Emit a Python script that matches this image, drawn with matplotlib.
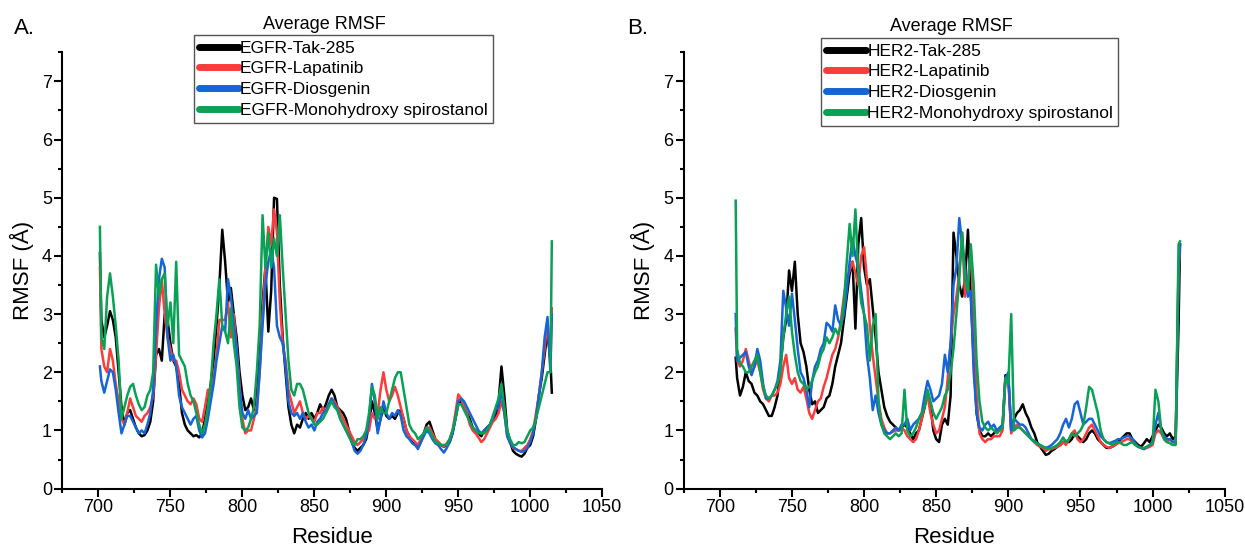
import matplotlib.pyplot as plt
from matplotlib.lines import Line2D
from matplotlib.ticker import MultipleLocator

plt.rcParams['font.family'] = ['Liberation Sans', 'DejaVu Sans']

# ---- panel A: EGFR complexes ----
res_a = [701] + list(range(702, 1015, 2)) + [1015]

egfr_tak = [
    4.05, 2.9, 2.6, 2.8, 3.05, 2.9, 2.6, 2.0, 1.4, 1.1,
    1.3, 1.35, 1.2, 1.05, 0.95, 0.9, 0.92, 1.0, 1.15, 1.5,
    2.3, 2.4, 2.2, 3.0, 2.9, 2.5, 2.2, 2.1, 1.8, 1.3,
    1.1, 1.0, 0.95, 0.9, 0.92, 0.88, 0.95, 1.2, 1.5, 1.8,
    2.2, 2.8, 3.5, 4.45, 3.9, 3.2, 3.45, 3.0, 2.6, 2.0,
    1.6, 1.35, 1.4, 1.55, 1.35, 1.7, 2.5, 3.2, 3.8, 2.7,
    3.4, 5.0, 4.98, 3.5, 2.6, 2.0, 1.4, 1.1, 0.95, 1.1,
    1.05, 1.2, 1.3, 1.2, 1.3, 1.2, 1.3, 1.45, 1.35, 1.45,
    1.6, 1.7, 1.6, 1.4, 1.35, 1.3, 1.2, 1.0, 0.8, 0.7,
    0.65, 0.7, 0.75, 0.85, 1.1, 1.5, 1.3, 1.0, 1.2, 1.4,
    1.25, 1.2, 1.25, 1.2, 1.3, 1.35, 1.2, 1.0, 0.9, 0.8,
    0.75, 0.72, 0.8, 0.95, 1.1, 1.15, 1.0, 0.85, 0.8, 0.75,
    0.72, 0.75, 0.8, 0.95, 1.2, 1.45, 1.5, 1.4, 1.3, 1.2,
    1.05, 1.0, 0.95, 0.9, 1.0, 1.05, 1.1, 1.2, 1.25, 1.5,
    2.1, 1.6, 1.0, 0.8, 0.65, 0.6, 0.57, 0.55, 0.6, 0.7,
    0.75, 0.9, 1.2, 1.6, 1.9, 2.3, 2.7, 2.2, 1.65,
]
egfr_lap = [
    3.8, 2.4, 2.1, 2.0, 2.4, 2.2, 1.8, 1.5, 1.2, 1.1,
    1.3, 1.55, 1.4, 1.25, 1.2, 1.15, 1.25, 1.3, 1.4, 1.6,
    2.3, 3.1, 3.6, 3.0, 2.6, 2.4, 2.2, 2.2, 2.0, 1.7,
    1.6, 1.5, 1.45, 1.55, 1.45, 1.2, 1.15, 1.4, 1.7, 1.6,
    1.9, 2.3, 2.9, 2.9, 2.9, 3.2, 2.6, 3.0, 2.4, 1.8,
    1.2, 0.95, 1.0, 1.0, 1.2, 1.4, 2.0, 3.0, 3.8, 4.5,
    4.2, 4.8, 4.4, 3.2, 2.5, 2.2, 1.7, 1.5, 1.3, 1.4,
    1.5, 1.3, 1.2, 1.25, 1.2, 1.15, 1.3, 1.3, 1.4, 1.3,
    1.45, 1.55, 1.5, 1.4, 1.3, 1.2, 1.1, 1.0, 0.9, 0.8,
    0.75, 0.8, 0.85, 0.95, 1.0, 1.3, 1.2, 1.3, 1.7, 2.0,
    1.7, 1.5, 1.6, 1.75, 1.6, 1.4, 1.2, 1.0, 0.9, 0.85,
    0.8, 0.75, 0.85, 0.95, 1.05, 1.05, 0.95, 0.85, 0.8, 0.75,
    0.72, 0.78, 0.85, 1.0, 1.3, 1.62, 1.55, 1.4, 1.3, 1.1,
    1.0, 0.95, 0.88, 0.8, 0.85, 0.95, 1.05, 1.15, 1.2, 1.3,
    1.5, 1.3, 0.9, 0.8, 0.7, 0.68, 0.65, 0.65, 0.7, 0.75,
    0.85, 1.0, 1.3, 1.6, 2.0, 2.4, 2.9, 2.1, 3.1,
]
egfr_dio = [
    2.1, 1.85, 1.65, 1.85, 2.05, 2.0, 1.7, 1.3, 0.95, 1.1,
    1.25, 1.25, 1.15, 1.05, 0.95, 1.0, 0.95, 1.1, 1.3, 1.7,
    2.8, 3.6, 3.95, 3.8, 2.6, 2.2, 2.3, 2.1, 1.6, 1.4,
    1.3, 1.2, 1.1, 1.2, 1.25, 1.0, 0.88, 0.95, 1.2, 1.5,
    1.8, 2.2, 2.5, 2.8, 2.7, 3.6, 3.3, 2.8, 2.4, 1.7,
    1.3, 1.2, 1.35, 1.2, 1.25, 1.3, 2.0, 2.8, 3.5, 3.9,
    4.1, 3.8, 2.8, 2.6, 2.5, 2.1, 1.5, 1.3, 1.25, 1.3,
    1.2, 1.3, 1.15, 1.05, 1.1, 1.0, 1.15, 1.2, 1.3, 1.35,
    1.45, 1.55, 1.45, 1.35, 1.2, 1.1, 1.0, 0.9, 0.8, 0.65,
    0.6, 0.65, 0.75, 0.9, 1.2, 1.8, 1.5, 0.95, 1.2, 1.5,
    1.3, 1.2, 1.3, 1.25, 1.35, 1.25, 1.0, 0.9, 0.85, 0.78,
    0.75, 0.68, 0.8, 0.9, 1.0, 0.95, 0.85, 0.78, 0.75, 0.68,
    0.62, 0.7, 0.8, 0.95, 1.2, 1.5, 1.55, 1.5, 1.4, 1.3,
    1.2, 1.1, 1.0, 0.95, 1.0, 1.05, 1.1, 1.2, 1.35, 1.4,
    1.7, 1.3, 0.9, 0.78, 0.72, 0.68, 0.65, 0.63, 0.65, 0.7,
    0.8, 0.95, 1.2, 1.6, 2.0, 2.6, 2.95, 2.0, 3.0,
]
egfr_mono = [
    4.5, 2.6, 2.4, 3.3, 3.7, 3.3, 2.8, 2.2, 1.2, 1.4,
    1.6, 1.75, 1.8, 1.6, 1.45, 1.35, 1.4, 1.6, 1.7, 2.0,
    3.85, 3.3, 3.6, 3.7, 2.8, 3.2, 2.5, 3.9, 2.3, 2.2,
    2.1, 1.8, 1.6, 1.5, 1.3, 1.1, 0.95, 1.1, 1.4, 1.8,
    2.5, 3.0, 3.6, 2.8, 2.7, 2.5, 3.1, 2.5, 2.1, 1.4,
    1.05, 1.0, 1.05, 1.2, 1.4, 2.0, 2.8, 4.7, 3.8, 4.4,
    3.8, 4.3, 4.0, 4.7, 3.8, 3.0, 2.2, 1.7, 1.6, 1.8,
    1.8, 1.7, 1.5, 1.3, 1.2, 1.1, 1.1, 1.15, 1.2, 1.3,
    1.4, 1.5, 1.4, 1.35, 1.2, 1.1, 1.0, 0.9, 0.8, 0.75,
    0.85, 0.85, 0.9, 1.0, 1.3, 1.75, 1.6, 1.2, 1.4, 1.3,
    1.3, 1.5, 1.7, 1.9, 2.0, 2.0, 1.7, 1.4, 1.1, 1.0,
    0.95, 0.85, 0.9, 0.95, 1.05, 1.0, 0.9, 0.8, 0.78, 0.75,
    0.75, 0.75, 0.85, 1.0, 1.2, 1.45, 1.45, 1.35, 1.25, 1.15,
    1.05, 1.0, 0.95, 0.95, 0.95, 1.0, 1.1, 1.25, 1.4, 1.55,
    1.8, 1.4, 1.0, 0.85, 0.75, 0.75, 0.8, 0.78, 0.8, 0.9,
    1.0, 1.05, 1.2, 1.4, 1.6, 1.8, 2.0, 2.0, 4.25,
]

# ---- panel B: HER2 complexes ----
res_b = [711] + list(range(712, 1019, 2)) + [1019]

her2_tak = [
    2.25, 1.9, 1.6, 1.75, 2.0, 1.85, 1.8, 1.65, 1.6, 1.5,
    1.45, 1.35, 1.25, 1.25, 1.4, 1.6, 2.1, 2.6, 2.9, 3.75,
    3.4, 3.9, 3.0, 2.5, 2.35, 2.1, 1.7, 1.45, 1.5, 1.3,
    1.35, 1.4, 1.55, 1.6, 1.8, 2.1, 2.3, 2.5, 2.9, 3.3,
    3.7, 3.9, 2.75, 4.2, 4.65, 3.8, 3.5, 3.6, 3.1, 2.6,
    2.0, 1.7, 1.4, 1.25, 1.15, 1.1, 1.05, 1.0, 1.05, 1.1,
    1.05, 0.95, 0.85, 0.95, 1.0, 1.2, 1.4, 1.65, 1.45, 1.0,
    0.85, 0.8, 1.1, 1.2, 1.1, 1.6, 4.4, 4.0, 3.5, 3.3,
    3.6, 4.45, 3.3, 2.2, 1.3, 1.0, 0.9, 0.9, 0.95, 0.9,
    0.95, 1.0, 1.0, 1.05, 1.95, 1.9, 1.0, 1.2, 1.3, 1.35,
    1.45, 1.3, 1.2, 1.05, 0.95, 0.8, 0.72, 0.65, 0.58, 0.6,
    0.65, 0.68, 0.72, 0.75, 0.8, 0.82, 0.8, 0.85, 0.95, 0.9,
    0.85, 0.8, 0.85, 0.95, 1.0, 0.95, 0.85, 0.8, 0.75, 0.7,
    0.7, 0.72, 0.75, 0.8, 0.85, 0.9, 0.95, 0.95, 0.85, 0.8,
    0.75, 0.72, 0.78, 0.85, 0.8, 0.9, 1.0, 1.1, 1.05, 0.95,
    0.9, 0.95, 0.85, 0.9, 2.8, 4.2,
]
her2_lap = [
    2.75, 2.2, 2.1, 2.2, 2.4, 2.2, 2.0, 2.1, 2.2, 2.0,
    1.7, 1.55, 1.5, 1.6, 1.6, 1.65, 1.8, 2.1, 2.3, 1.9,
    1.8, 1.9, 1.7, 1.65, 1.75, 1.55, 1.3, 1.2, 1.35, 1.5,
    1.55, 1.75, 1.9, 2.1, 2.3, 2.4, 2.6, 2.9, 3.3, 3.6,
    3.75, 3.9, 3.7, 3.5, 4.0, 4.15, 3.6, 2.8, 2.3, 1.9,
    1.5, 1.2, 1.05, 0.95, 0.95, 0.98, 1.0, 1.0, 1.05, 1.0,
    0.9, 0.85, 0.8, 0.85, 1.0, 1.2, 1.45, 1.6, 1.3, 1.1,
    0.95, 1.0, 1.2, 1.4, 1.9, 2.5, 3.0, 3.3, 3.7, 4.4,
    3.3, 3.6, 4.1, 3.0, 1.6, 0.95, 0.85, 0.8, 0.85, 0.85,
    0.9, 0.9, 0.9, 1.0, 1.9, 1.9, 0.95, 1.05, 1.1, 1.05,
    1.0, 0.95, 0.9, 0.85, 0.8, 0.75, 0.72, 0.7, 0.65, 0.68,
    0.68, 0.7, 0.72, 0.75, 0.8, 0.75, 0.85, 0.95, 1.0, 0.85,
    0.8, 0.85, 0.95, 1.05, 1.1, 1.0, 0.9, 0.8, 0.75, 0.72,
    0.7, 0.72, 0.75, 0.78, 0.8, 0.82, 0.85, 0.85, 0.8, 0.75,
    0.72, 0.7, 0.68, 0.7, 0.72, 0.75, 0.95, 1.0, 0.95, 0.85,
    0.8, 0.85, 0.8, 0.78, 3.7, 4.2,
]
her2_dio = [
    3.0, 2.2, 2.25, 2.3, 2.35, 2.1, 1.95, 2.1, 2.4, 2.2,
    1.8, 1.55, 1.55, 1.6, 1.7, 1.85, 2.2, 3.4, 3.1, 2.8,
    3.35, 2.9, 2.4, 2.0, 1.9, 1.7, 1.4, 1.85, 2.1, 2.2,
    2.4, 2.5, 2.85, 2.8, 2.7, 3.15, 2.9, 2.8, 3.0, 3.4,
    3.9, 4.3, 4.0, 3.8, 3.4, 3.0, 2.3, 1.9, 1.35, 1.6,
    1.3, 1.1, 1.0, 0.95, 0.95, 1.0, 1.05, 1.0, 1.1, 1.1,
    1.2, 1.0, 1.1, 1.15, 1.2, 1.3, 1.6, 1.85, 1.7, 1.5,
    1.55, 1.6, 1.8, 2.3, 2.0, 2.5, 3.5, 3.8, 4.65, 4.2,
    3.8, 3.3, 3.4, 2.0, 1.3, 1.05, 1.0, 1.1, 1.15, 1.05,
    1.1, 1.0, 1.05, 1.1, 1.9, 2.0, 1.0, 1.2, 1.15, 1.1,
    1.1, 1.05, 0.95, 0.85, 0.82, 0.78, 0.75, 0.72, 0.7, 0.72,
    0.75, 0.8, 0.85, 0.95, 1.1, 1.2, 1.05, 1.2, 1.45, 1.5,
    1.3, 1.1, 1.15, 1.2, 1.2, 1.1, 1.0, 0.9, 0.85, 0.8,
    0.78, 0.8, 0.82, 0.85, 0.85, 0.88, 0.9, 0.9, 0.85, 0.78,
    0.72, 0.7, 0.68, 0.72, 0.75, 0.8, 1.1, 1.3, 1.0, 0.9,
    0.85, 0.85, 0.8, 0.82, 3.8, 4.2,
]
her2_mono = [
    4.95, 2.4, 2.15, 2.1, 2.0, 2.0, 2.1, 2.2, 2.3, 2.0,
    1.75, 1.6, 1.55, 1.6, 1.7, 1.8, 2.0, 2.6, 3.0, 3.3,
    2.7, 2.3, 2.0, 1.85, 1.8, 1.7, 1.75, 1.85, 2.0, 2.1,
    2.3, 2.4, 2.6, 2.5, 2.6, 2.75, 2.65, 2.8, 3.2, 3.9,
    4.55, 4.0, 4.8, 3.7, 3.2, 3.0, 2.8, 2.2, 2.8, 3.0,
    1.5, 1.1, 0.95, 0.9, 0.85, 0.9, 0.95, 0.9, 0.95, 1.7,
    1.0, 0.9, 0.95, 1.05, 1.2, 1.3, 1.4, 1.7, 1.5, 1.3,
    1.2, 1.3, 1.4, 1.6, 1.7, 2.0, 2.4, 3.0, 3.6, 4.4,
    3.6, 3.4, 4.2, 3.5, 2.2, 1.5, 1.15, 1.05, 1.0, 1.05,
    1.0, 0.95, 1.0, 1.05, 1.9, 1.8, 3.0, 1.0, 1.05, 1.05,
    1.0, 0.95, 0.9, 0.85, 0.8, 0.78, 0.75, 0.72, 0.7, 0.68,
    0.7, 0.72, 0.75, 0.8, 0.88, 0.8, 0.85, 0.95, 0.9, 0.95,
    1.0, 1.1, 1.4, 1.75, 1.7, 1.5, 1.3, 1.0, 0.85, 0.8,
    0.78, 0.75, 0.78, 0.8, 0.78, 0.75, 0.75, 0.78, 0.8, 0.75,
    0.72, 0.7, 0.7, 0.72, 0.75, 0.78, 1.7, 1.5, 1.0, 0.85,
    0.8, 0.78, 0.75, 0.75, 4.2, 4.25,
]

colors = ['#000000', '#fa3c3c', '#1565d8', '#0aa055']
labels_a = ['EGFR-Tak-285', 'EGFR-Lapatinib', 'EGFR-Diosgenin',
            'EGFR-Monohydroxy spirostanol']
labels_b = ['HER2-Tak-285', 'HER2-Lapatinib', 'HER2-Diosgenin',
            'HER2-Monohydroxy spirostanol']

fig = plt.figure(figsize=(12.45, 5.54), dpi=100)
ax_a = fig.add_axes([0.0502, 0.118, 0.4335, 0.7876])
ax_b = fig.add_axes([0.5492, 0.118, 0.4345, 0.7876])


def draw_panel(ax, res, series, labels, leg_x, leg_top, title_x, title_y):
    for vals, c in zip(series, colors):
        ax.plot(res, vals, color=c, lw=1.8)
    ax.set_xlim(675, 1050)
    ax.set_ylim(0, 7.5)
    ax.xaxis.set_major_locator(MultipleLocator(50))
    ax.xaxis.set_minor_locator(MultipleLocator(25))
    ax.yaxis.set_major_locator(MultipleLocator(1))
    ax.yaxis.set_minor_locator(MultipleLocator(0.5))
    for s in ['top', 'right']:
        ax.spines[s].set_visible(False)
    for s in ['left', 'bottom']:
        ax.spines[s].set_linewidth(1.5)
    ax.tick_params(which='major', direction='out', length=5.5, width=1.5,
                   labelsize=13, pad=2)
    ax.tick_params(which='minor', direction='out', length=3, width=1.5)
    ax.set_xlabel('Residue', fontsize=16, labelpad=8)
    ax.set_ylabel('RMSF (Å)', fontsize=16, labelpad=6)

    handles = [Line2D([], [], color=c, lw=5, solid_capstyle='round')
               for c in colors]
    leg = ax.legend(handles, labels, loc='upper left',
                    bbox_to_anchor=(leg_x, leg_top), borderaxespad=0,
                    fontsize=12.5, handlelength=2.3, handletextpad=0.05,
                    labelspacing=0.32, borderpad=0.3, fancybox=False,
                    framealpha=1, edgecolor='#555555')
    leg.get_frame().set_linewidth(1.0)
    ax.text(title_x, title_y, 'Average RMSF', transform=ax.transAxes,
            ha='center', va='center', fontsize=13)


draw_panel(ax_a, res_a, [egfr_tak, egfr_lap, egfr_dio, egfr_mono], labels_a,
           0.243, 1.039, 0.486, 1.063)
draw_panel(ax_b, res_b, [her2_tak, her2_lap, her2_dio, her2_mono], labels_b,
           0.254, 1.032, 0.494, 1.059)

fig.text(0.011, 0.948, 'A.', fontsize=16, va='center', ha='left')
fig.text(0.504, 0.948, 'B.', fontsize=16, va='center', ha='left')

fig.savefig('out.png', dpi=100)
